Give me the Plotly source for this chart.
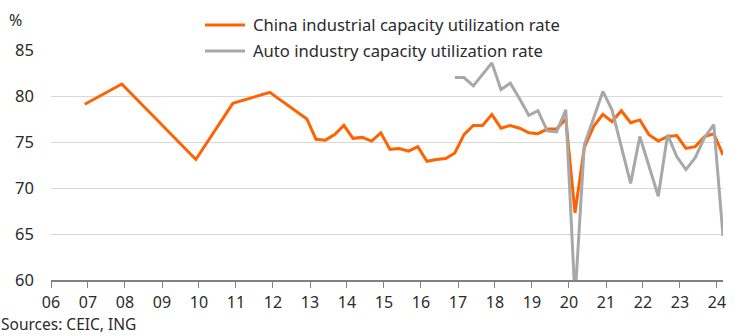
import plotly.graph_objects as go

# ---- data ----
china_dates = [
    "2006-12-01", "2007-12-01", "2009-12-01", "2010-12-01", "2011-12-01", "2012-12-01",
    "2013-03-01", "2013-06-01", "2013-09-01", "2013-12-01",
    "2014-03-01", "2014-06-01", "2014-09-01", "2014-12-01",
    "2015-03-01", "2015-06-01", "2015-09-01", "2015-12-01",
    "2016-03-01", "2016-06-01", "2016-09-01", "2016-12-01",
    "2017-03-01", "2017-06-01", "2017-09-01", "2017-12-01",
    "2018-03-01", "2018-06-01", "2018-09-01", "2018-12-01",
    "2019-03-01", "2019-06-01", "2019-09-01", "2019-12-01",
    "2020-03-01", "2020-06-01", "2020-09-01", "2020-12-01",
    "2021-03-01", "2021-06-01", "2021-09-01", "2021-12-01",
    "2022-03-01", "2022-06-01", "2022-09-01", "2022-12-01",
    "2023-03-01", "2023-06-01", "2023-09-01", "2023-12-01",
    "2024-03-01",
]
china_values = [
    79.1, 81.3, 73.1, 79.2, 80.4, 77.5,
    75.3, 75.2, 75.8, 76.8,
    75.4, 75.5, 75.1, 76.0,
    74.2, 74.3, 74.0, 74.5,
    72.9, 73.1, 73.2, 73.8,
    75.8, 76.8, 76.8, 78.0,
    76.5, 76.8, 76.5, 76.0,
    75.9, 76.4, 76.4, 77.5,
    67.3, 74.4, 76.7, 78.0,
    77.2, 78.4, 77.1, 77.4,
    75.8, 75.1, 75.6, 75.7,
    74.3, 74.5, 75.6, 75.9,
    73.6,
]

auto_dates = [
    "2016-12-01",
    "2017-03-01", "2017-06-01", "2017-09-01", "2017-12-01",
    "2018-03-01", "2018-06-01", "2018-09-01", "2018-12-01",
    "2019-03-01", "2019-06-01", "2019-09-01", "2019-12-01",
    "2020-03-01", "2020-06-01", "2020-09-01", "2020-12-01",
    "2021-03-01", "2021-06-01", "2021-09-01", "2021-12-01",
    "2022-03-01", "2022-06-01", "2022-09-01", "2022-12-01",
    "2023-03-01", "2023-06-01", "2023-09-01", "2023-12-01",
    "2024-03-01",
]
auto_values = [
    82.0,
    82.0, 81.1, 82.3, 83.6,
    80.7, 81.4, 79.7, 77.9,
    78.4, 76.2, 76.1, 78.5,
    58.0, 74.7, 77.6, 80.5,
    78.5, 74.6, 70.5, 75.6,
    72.3, 69.1, 75.8, 73.4,
    72.0, 73.3, 75.5, 76.9,
    64.8,
]

series_names = ["China industrial capacity utilization rate",
                "Auto industry capacity utilization rate"]
y_ticks = [60, 65, 70, 75, 80, 85]

ORANGE = "#FF6200"
GREY = "#A8A8A8"
TEXT = "#2b2b2b"
FONT = "Noto Sans"

W, H = 746, 336
ML, MR, MT, MB = 51, 23, 50, 56

fig = go.Figure()
fig.add_trace(go.Scatter(x=china_dates, y=china_values, mode="lines",
                         line=dict(color=ORANGE, width=3), name=series_names[0],
                         showlegend=False))
fig.add_trace(go.Scatter(x=auto_dates, y=auto_values, mode="lines",
                         line=dict(color=GREY, width=3), name=series_names[1],
                         showlegend=False))

# manual legend (sample lines + labels), in pixel-derived paper coords
pw = W - ML - MR
ph = H - MT - MB
def px(xp):
    return (xp - ML) / pw
def py(yp):
    return (H - MB - yp) / ph

for i, (nm, col) in enumerate(zip(series_names, [ORANGE, GREY])):
    yy = 25 + 26 * i
    fig.add_shape(type="line", xref="paper", yref="paper",
                  x0=px(205), x1=px(245), y0=py(yy), y1=py(yy),
                  line=dict(color=col, width=3))
    fig.add_annotation(xref="paper", yref="paper", x=px(251), y=py(yy),
                       xanchor="left", yanchor="middle", text=nm, showarrow=False,
                       font=dict(size=16.6, color=TEXT, family=FONT))

fig.add_annotation(xref="paper", yref="paper", x=px(7), y=py(20),
                   xanchor="left", yanchor="middle", text="%", showarrow=False,
                   font=dict(size=16, color=TEXT, family=FONT))
fig.add_annotation(xref="paper", yref="paper", x=px(0), y=py(336),
                   xanchor="left", yanchor="bottom", text="Sources: CEIC, ING",
                   showarrow=False, font=dict(size=15.5, color=TEXT, family=FONT),
                   borderpad=0)

fig.update_layout(
    width=W, height=H,
    margin=dict(l=ML, r=MR, t=MT, b=MB),
    paper_bgcolor="white", plot_bgcolor="white",
    font=dict(family=FONT, size=16, color=TEXT),
    xaxis=dict(type="date", range=["2006-01-01", "2024-03-01"],
               tick0="2006-01-01", dtick="M12", tickformat="%y",
               showgrid=False, showline=True, linecolor="#808080", linewidth=1.5,
               ticks="outside", ticklen=6, tickcolor="#808080", tickwidth=1,
               ticklabelstandoff=1,
               tickfont=dict(size=16, color=TEXT), zeroline=False),
    yaxis=dict(range=[60, 85], tickvals=y_ticks, showgrid=True,
               gridcolor="#d9d9d9", gridwidth=1, zeroline=False, showline=False,
               ticks="", ticklabelstandoff=16,
               tickfont=dict(size=16.5, color=TEXT)),
)

fig.write_html("out.html")
